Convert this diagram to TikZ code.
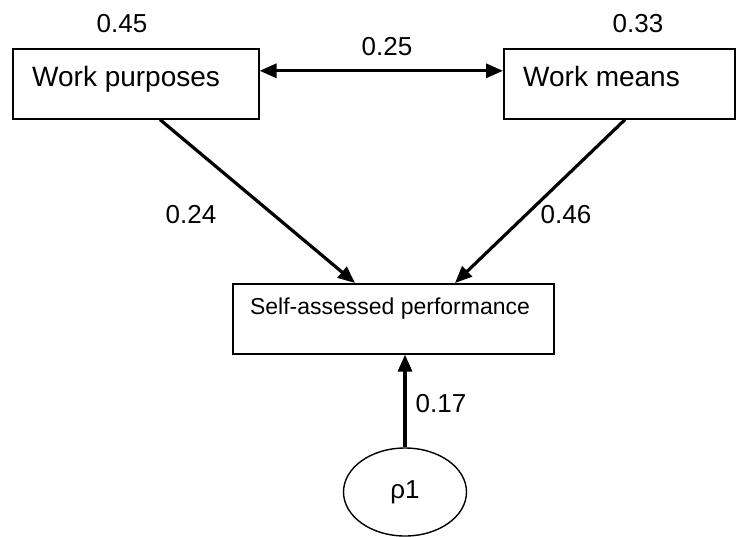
\documentclass[tikz,border=0pt]{standalone}
\usepackage{fontspec}
\setmainfont{Liberation Sans}
\usetikzlibrary{arrows.meta,calc,shapes.geometric}
\begin{document}
\begin{tikzpicture}[x=1pt,y=-1pt,
  box/.style={draw,line width=1.6pt,rectangle,inner sep=0pt,anchor=north west},
  bigtxt/.style={font=\fontsize{28}{31}\selectfont,inner sep=0pt,anchor=base west},
  smalltxt/.style={font=\fontsize{23}{26}\selectfont,inner sep=0pt},
  coef/.style={font=\fontsize{26}{29}\selectfont,inner sep=0pt},
  arr/.style={line width=3.2pt,-{Triangle[length=17pt,width=14pt]}},
  both/.style={line width=3.2pt,{Triangle[length=17pt,width=14pt]}-{Triangle[length=17pt,width=14pt]}}]
  \useasboundingbox (0,0) rectangle (736,536);

  % observed variables
  \node[box,minimum width=246pt,minimum height=70pt] (wp) at (12,48) {};
  \node[box,minimum width=231pt,minimum height=70pt] (wm) at (503,48) {};
  \node[box,minimum width=321pt,minimum height=70pt] (sp) at (232,283) {};
  \node[bigtxt] (wpt) at (32,86) {Work purposes};
  \node[bigtxt] (wmt) at (523,86) {Work means};
  \node[smalltxt,anchor=base] (spt) at (390,314) {Self-assessed performance};

  % residual
  \node[draw,line width=1.4pt,ellipse,minimum width=123pt,minimum height=88pt,inner sep=0pt,
        font=\fontsize{26}{29}\selectfont] (rho) at (405,492) {ρ1};

  % variances
  \node[coef] (v1) at (122,24) {0.45};
  \node[coef] (v2) at (638,24) {0.33};

  % paths
  \draw[both] ([yshift=13pt]wp.east) -- ([yshift=13pt]wm.west);
  \draw[arr] ([xshift=148pt]wp.south west) -- ([xshift=123pt]sp.north west);
  \draw[arr] ([xshift=122pt]wm.south west) -- ([xshift=223pt]sp.north west);
  \draw[arr] (rho.north) -- (rho.north |- sp.south);

  % coefficients
  \node[coef] (c1) at (387,47) {0.25};
  \node[coef] (c2) at (191,215) {0.24};
  \node[coef] (c3) at (566,215) {0.46};
  \node[coef] (c4) at (441,404) {0.17};
\end{tikzpicture}
\end{document}
